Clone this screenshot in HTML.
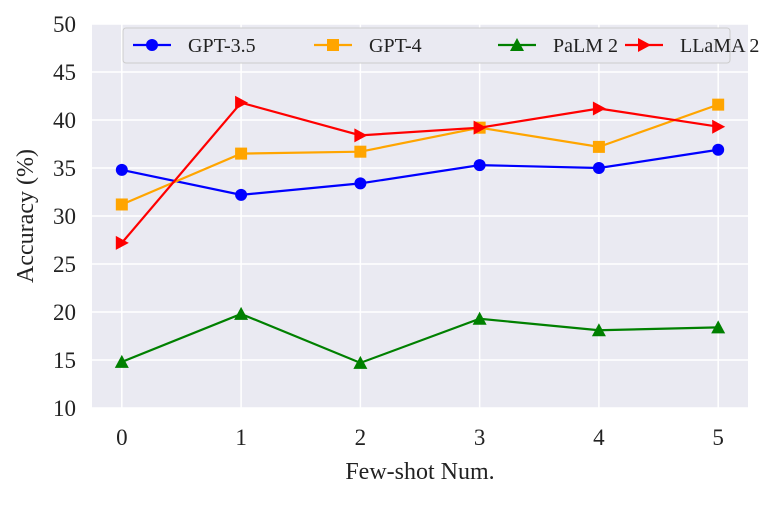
<!DOCTYPE html>
<html><head><meta charset="utf-8"><style>
body{margin:0;background:#fff;}
svg text{font-family:"Liberation Serif",serif;fill:#222;}
</style></head><body>
<svg id="chart" width="761" height="500" xmlns="http://www.w3.org/2000/svg"></svg>
<script>
const categories=[0,1,2,3,4,5];
const yTicks=[10,15,20,25,30,35,40,45,50];
const seriesNames=["GPT-3.5","GPT-4","PaLM 2","LLaMA 2"];
const gpt35=[34.8,32.2,33.4,35.3,35.0,36.9];
const gpt4=[31.2,36.5,36.7,39.2,37.2,41.6];
const palm2=[14.8,19.8,14.7,19.3,18.1,18.4];
const llama2=[27.2,41.8,38.4,39.2,41.2,39.3];
const colors=["#0000ff","#ffa500","#008000","#ff0000"];
const markers=["circle","square","triangle","right"];
const svg=document.getElementById('chart');
const NS="http://www.w3.org/2000/svg";
const L=92,R=748,T=24,B=408;
const x=v=>L+(v+0.25)/5.5*(R-L);
const y=v=>B-(v-10)/40*(B-T);
function el(t,a,p){const e=document.createElementNS(NS,t);for(const k in a)e.setAttribute(k,a[k]);(p||svg).appendChild(e);return e;}
let bg=el('rect',{x:L,y:T,width:R-L,height:B-T,fill:'#eaeaf2'});


yTicks.forEach(t=>{
 let g=el('line',{x1:L,x2:R,y1:y(t),y2:y(t),stroke:'#fff','stroke-width':1.5});
 
 
 let tx=el('text',{x:L-16,y:y(t)+8,'text-anchor':'end','font-size':23});
 tx.textContent=t;
 
 
});
categories.forEach(c=>{
 let g=el('line',{x1:x(c),x2:x(c),y1:T,y2:B,stroke:'#fff','stroke-width':1.5});
 
 
 let tx=el('text',{x:x(c),y:B+37,'text-anchor':'middle','font-size':23});
 tx.textContent=c;
 
 
});
let xt=el('text',{x:(L+R)/2,y:479,'text-anchor':'middle','font-size':24});
xt.textContent='Few-shot Num.';


let yt=el('text',{x:0,y:0,'text-anchor':'middle','font-size':24,transform:`translate(33,${(T+B)/2}) rotate(-90)`});
yt.textContent='Accuracy (%)';


function marker(type,cx,cy,col,parent){
 let m;
 if(type==='circle')m=el('circle',{cx,cy,r:6,fill:col},parent);
 else if(type==='square')m=el('rect',{x:cx-6,y:cy-6,width:12,height:12,fill:col},parent);
 else if(type==='triangle')m=el('polygon',{points:`${cx},${cy-7} ${cx-7},${cy+6} ${cx+7},${cy+6}`,fill:col},parent);
 else m=el('polygon',{points:`${cx+7},${cy} ${cx-6},${cy-7} ${cx-6},${cy+7}`,fill:col},parent);
 return m;
}
[gpt35,gpt4,palm2,llama2].forEach((s,i)=>{
 let g=el('g',{});
 
 
 el('polyline',{points:s.map((v,j)=>x(categories[j])+','+y(v)).join(' '),fill:'none',stroke:colors[i],'stroke-width':2.2},g);
 s.forEach((v,j)=>{let m=marker(markers[i],x(categories[j]),y(v),colors[i],g);
  
  });
});
let lg=el('g',{});


el('rect',{x:123,y:28,width:607,height:35,fill:'#eaeaf2',stroke:'#ccc',rx:3},lg);
const lx=[133,314,498,625];
seriesNames.forEach((n,i)=>{
 let g=el('g',{},lg);
 
 
 el('line',{x1:lx[i],x2:lx[i]+38,y1:45,y2:45,stroke:colors[i],'stroke-width':2.2},g);
 marker(markers[i],lx[i]+19,45,colors[i],g);
 let t=el('text',{x:lx[i]+55,y:52,'font-size':20},g);
 t.textContent=n;
});
</script>
</body></html>
